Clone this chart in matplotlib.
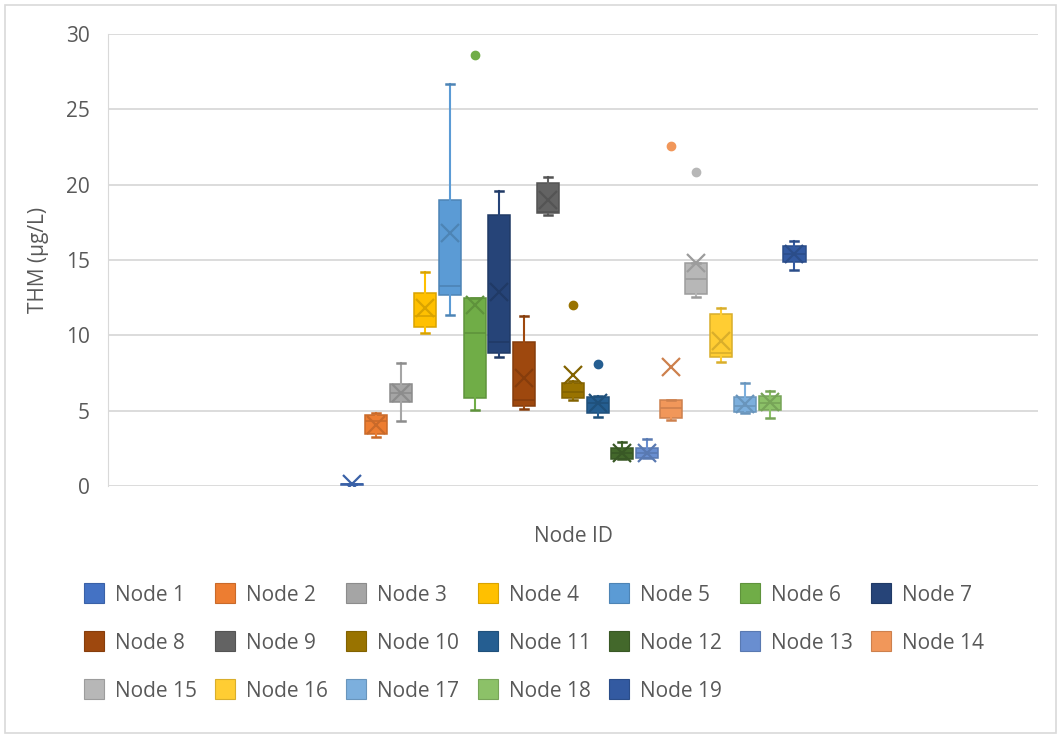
import matplotlib.pyplot as plt
import matplotlib.colors as mcolors
from matplotlib.patches import Rectangle

plt.rcParams['font.family'] = ['Open Sans', 'DejaVu Sans']

# THM box statistics per sampling node (ug/L)
nodes = ['Node %d' % i for i in range(1, 20)]
whislo = [0.05, 3.23, 4.33, 10.13, 11.33, 5.04, 8.58, 5.09, 17.98, 5.70,
          4.60, 1.77, 1.84, 4.38, 12.56, 8.25, 4.85, 4.53, 14.33]
q1 = [0.08, 3.45, 5.55, 10.53, 12.65, 5.86, 8.85, 5.31, 18.10, 5.82,
      4.87, 1.77, 1.84, 4.49, 12.74, 8.58, 4.89, 5.04, 14.84]
med = [0.10, 4.30, 6.20, 11.28, 13.29, 10.13, 9.53, 5.71, 18.20, 6.26,
       5.50, 2.20, 2.20, 5.16, 13.74, 8.80, 5.30, 5.50, 15.40]
q3 = [0.12, 4.71, 6.75, 12.79, 18.98, 12.45, 17.96, 9.58, 20.09, 6.86,
      5.93, 2.54, 2.50, 5.71, 14.82, 11.41, 5.93, 5.97, 15.95]
whishi = [0.15, 4.82, 8.18, 14.22, 26.65, 12.45, 19.57, 11.28, 20.53, 7.00,
          6.00, 2.94, 3.10, 5.71, 14.82, 11.83, 6.81, 6.32, 16.26]
means = [0.10, 4.05, 6.15, 11.79, 16.77, 12.01, 12.90, 7.14, 18.98, 7.37,
         5.49, 2.20, 2.20, 7.88, 14.78, 9.64, 5.44, 5.60, 15.40]
fliers = [[], [], [], [], [], [28.6], [], [], [], [12.0],
          [8.07], [], [], [22.56], [20.86], [], [], [], []]

colors = ['#4472C4', '#ED7D31', '#A5A5A5', '#FFC000', '#5B9BD5', '#70AD47',
          '#264478', '#9E480E', '#636363', '#997300', '#255E91', '#43682B',
          '#698ED0', '#F1975A', '#B7B7B7', '#FFCD33', '#7CAFDD', '#8CC168',
          '#335AA1']


def darker(c, f=0.85):
    r, g, b = mcolors.to_rgb(c)
    return (r * f, g * f, b * f)


text_col = '#595959'
grid_col = '#D9D9D9'

fig = plt.figure(figsize=(10.58, 7.36), dpi=100)
ax = fig.add_axes([108 / 1058, 1 - 486 / 736, 930 / 1058, 452 / 736])

for i in range(len(nodes)):
    stats = [dict(whislo=whislo[i], q1=q1[i], med=med[i], q3=q3[i],
                  whishi=whishi[i], mean=means[i], fliers=fliers[i])]
    c = colors[i]
    dc = darker(c)
    ax.bxp(stats, positions=[i], widths=0.9, capwidths=0.32,
           patch_artist=True, showmeans=True, manage_ticks=False,
           boxprops=dict(facecolor=c, edgecolor=dc, linewidth=1.1),
           medianprops=dict(color=dc, linewidth=1.2),
           whiskerprops=dict(color=c, linewidth=1.5),
           capprops=dict(color=dc, linewidth=1.8),
           meanprops=dict(marker='x', markersize=13, markeredgecolor=dc,
                          markeredgewidth=1.6),
           flierprops=dict(marker='o', markersize=6, markerfacecolor=c,
                           markeredgecolor=c),
           zorder=3)

ax.set_xlim(9 - 18.9, 9 + 18.9)
ax.set_ylim(0, 30)
ax.set_yticks(range(0, 31, 5))
ax.set_xticks([])
ax.grid(axis='y', color=grid_col, linewidth=1.3, zorder=0)
ax.set_axisbelow(True)
for side in ['top', 'right', 'bottom']:
    ax.spines[side].set_visible(False)
ax.spines['left'].set_color(grid_col)
ax.tick_params(axis='y', length=0, pad=13, labelsize=15, labelcolor=text_col)
ax.set_ylabel('THM (µg/L)', fontsize=15, color=text_col, labelpad=12)

fig.text(573 / 1058, 1 - 537 / 736, 'Node ID', ha='center', va='center',
         fontsize=15, color=text_col)

# legend laid out in 3 rows of 7
for i, name in enumerate(nodes):
    row, col = divmod(i, 7)
    x0 = 84 + 131.2 * col
    yc = 593 + 48 * row
    fig.add_artist(Rectangle((x0 / 1058, 1 - (yc + 10) / 736), 20 / 1058, 20 / 736,
                             facecolor=colors[i], edgecolor=darker(colors[i], 0.85),
                             linewidth=0.8, transform=fig.transFigure))
    fig.text((x0 + 31) / 1058, 1 - (yc + 2.5) / 736, name, ha='left', va='center',
             fontsize=15, color=text_col)

# chart border
fig.add_artist(Rectangle((5 / 1058, 3 / 736), 1051 / 1058, 728 / 736,
                         fill=False, edgecolor=grid_col, linewidth=1.2,
                         transform=fig.transFigure))

fig.savefig('out.png', dpi=100, facecolor='white')
